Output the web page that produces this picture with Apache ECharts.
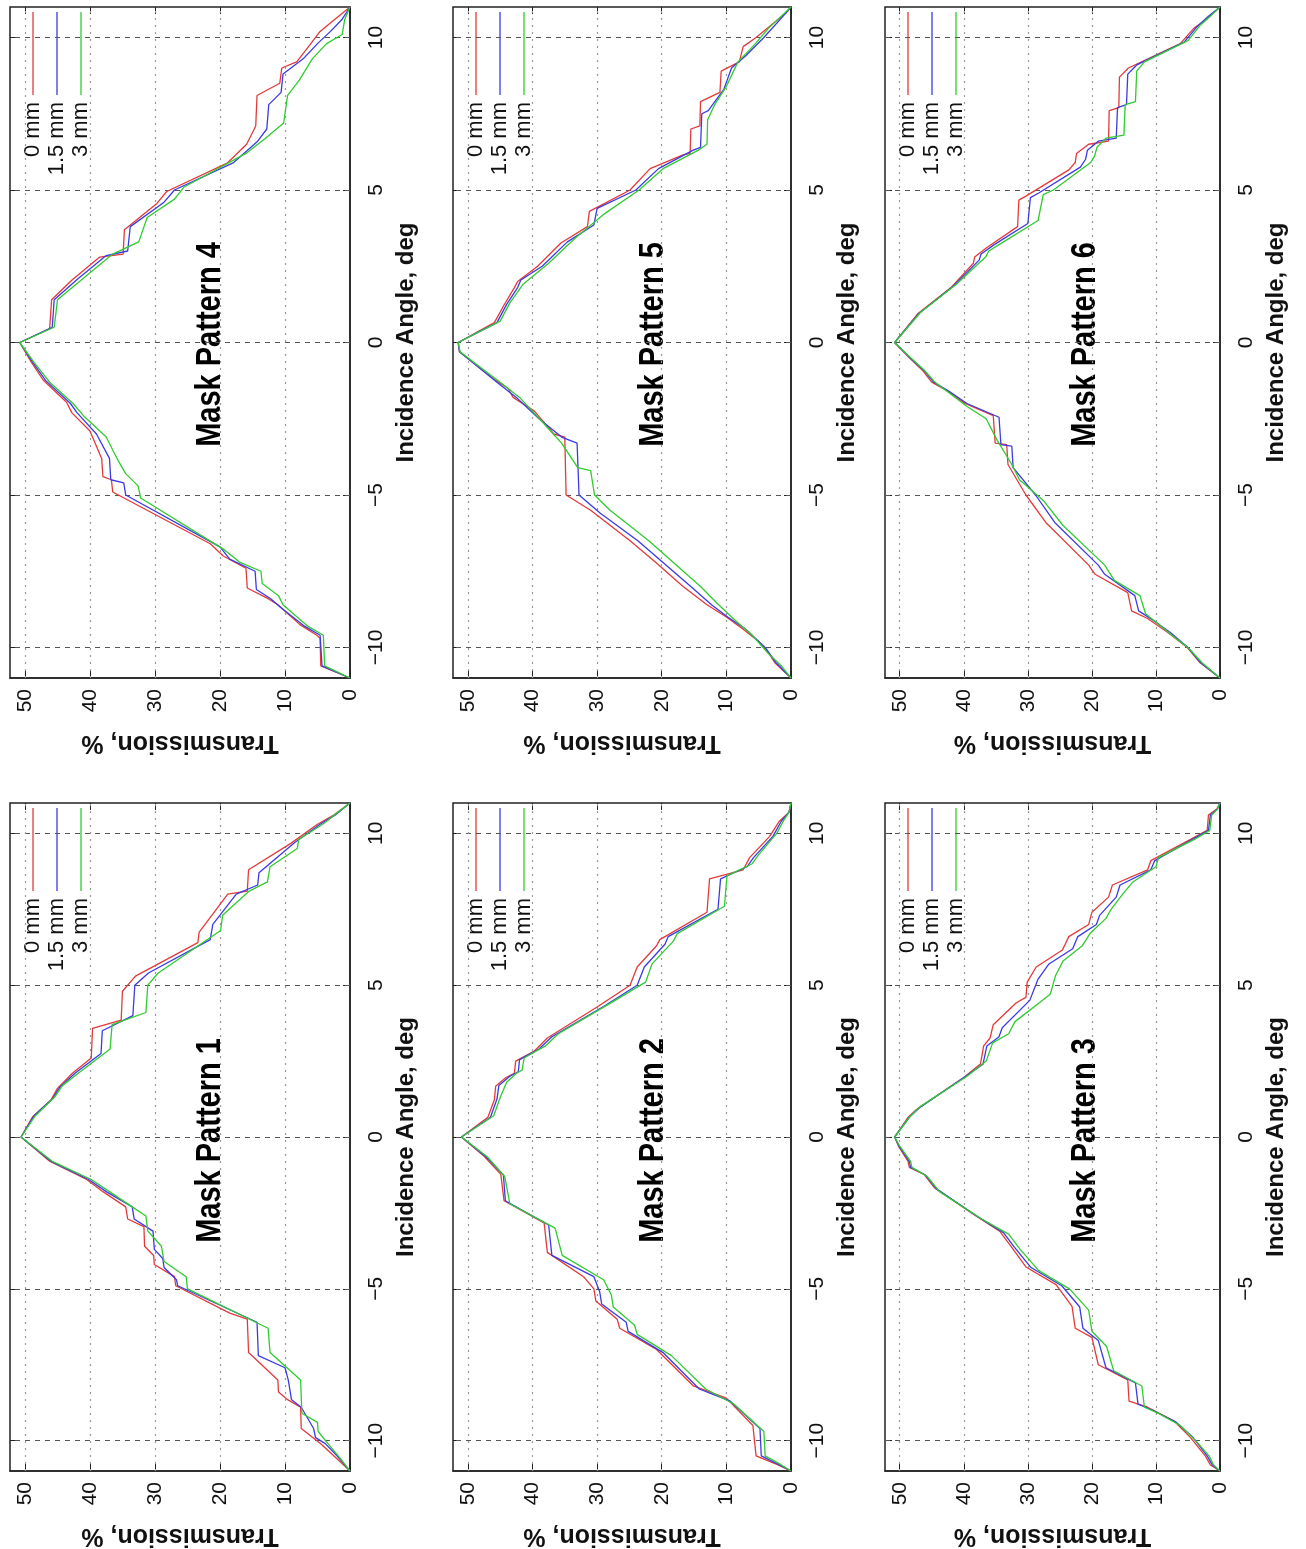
<!DOCTYPE html>
<html>
<head>
<meta charset="utf-8">
<script src="https://cdn.jsdelivr.net/npm/echarts@6/dist/echarts.min.js"></script>
<style>
  body { margin: 0; background: #fff; }
  #chart { width: 1306px; height: 1549px; }
</style>
</head>
<body>
<div id="chart"></div>
<script>
// tick values and legend
const angleTicks = [-10, -5, 0, 5, 10]
const transTicks = [0, 10, 20, 30, 40, 50]
const legendNames = ['0 mm', '1.5 mm', '3 mm']
const lineColors = ['#e23a3a', '#3a3ae6', '#2fcc2f']

// [incidence angle, transmission %]
const mp1_0mm = [[0, 50.6], [0.67, 48.8], [1.22, 46], [1.6, 45], [2.1, 42.7], [2.6, 39.8], [3.58, 39.6], [3.85, 35.2], [4.8, 35], [5.3, 33], [6.4, 23.4], [6.75, 23.2], [7.0, 22.3], [8.0, 18.8], [8.1, 15.8], [8.8, 15.6], [9.67, 9.1], [10.3, 5.0], [10.6, 2.5], [11, 0],
  [-0.8, 46.2], [-1.4, 40.5], [-1.8, 38], [-2.3, 34.5], [-2.7, 34.2], [-2.95, 31.7], [-3.6, 31.6], [-3.9, 30.2], [-4.2, 30.1], [-4.6, 27], [-4.9, 26.8], [-5.8, 18.5], [-6.0, 15.8], [-7.1, 15.6], [-8.0, 11.1], [-8.4, 11.0], [-8.65, 9.6], [-8.9, 7.6], [-9.6, 7.5], [-10.1, 4.5], [-10.5, 2.5], [-11, 0]]
const mp1_15mm = [[0, 50.6], [0.7, 48.6], [1.25, 45.8], [1.65, 44.6], [2.1, 42.3], [2.75, 38.3], [3.5, 38.1], [4.0, 33.4], [5.0, 33.1], [5.4, 31], [6.5, 21.5], [7.0, 21.1], [8.0, 17.5], [8.3, 14.2], [8.7, 14], [9.7, 8.5], [10.3, 4.6], [10.6, 2.3], [11, 0],
  [-0.8, 46], [-1.4, 40.2], [-1.8, 37.5], [-2.3, 33.5], [-2.7, 33.2], [-3.1, 30.3], [-3.7, 30.1], [-4.0, 28.8], [-4.3, 28.6], [-4.7, 26.7], [-4.9, 26.5], [-6.1, 14.3], [-7.2, 14.1], [-7.6, 10], [-8.0, 9.5], [-8.65, 9.0], [-8.9, 7.5], [-9.6, 5.6], [-9.9, 5.3], [-10.1, 3.8], [-10.5, 2], [-11, 0]]
const mp1_3mm = [[0, 50.6], [0.7, 48.4], [1.3, 45.5], [1.7, 44.2], [2.1, 41.8], [2.9, 36.9], [3.7, 36.6], [4.1, 31.4], [5.0, 31.1], [5.4, 29.5], [6.8, 19.9], [7.3, 19.6], [8.1, 15.5], [8.4, 12.7], [8.9, 12.3], [9.5, 8.1], [9.8, 7.9], [10.3, 4.2], [10.7, 1.8], [11, 0],
  [-0.8, 45.8], [-1.4, 39.8], [-1.8, 37], [-2.3, 33.5], [-2.6, 31.4], [-3.1, 31.1], [-3.6, 29], [-4.1, 28.6], [-4.6, 25.2], [-5.0, 25.0], [-6.3, 12.6], [-7.1, 12.3], [-8.0, 7.6], [-9.1, 7.4], [-9.4, 5.0], [-9.7, 4.9], [-10.1, 3.4], [-10.5, 1.8], [-11, 0]]

const mp2_0mm = [[0, 51], [0.65, 46.9], [1.23, 45.9], [1.67, 45.7], [1.96, 44.1], [2.1, 42.8], [2.5, 42.6], [2.83, 39.7], [3.26, 37.7], [4.28, 30], [5, 24.9], [5.6, 23.8], [6.3, 20.8], [6.5, 20.3], [7.4, 13.0], [8.5, 12.6], [8.8, 7.4], [9.2, 6.4], [9.9, 3.3], [10.4, 1.8], [10.7, 0.3], [11, 0],
  [-0.65, 47.4], [-1.23, 44.9], [-2.1, 44.4], [-2.83, 38.2], [-3.8, 37.7], [-4.6, 32.1], [-5.0, 30.5], [-5.4, 30.2], [-6.0, 26.9], [-6.3, 26.5], [-7.0, 20.8], [-8.2, 15.1], [-8.6, 10], [-9.5, 5.9], [-10.5, 5.4], [-10.8, 2], [-11, 0]]
const mp2_15mm = [[0, 51], [0.65, 46.5], [1.25, 45.5], [1.7, 45.2], [2.0, 43.5], [2.15, 42.2], [2.55, 42], [2.9, 39], [3.3, 37], [4.3, 29], [5.0, 23.8], [5.6, 22.7], [6.35, 19.5], [6.6, 19], [7.5, 11.3], [8.5, 10.9], [8.9, 6.8], [9.2, 5.8], [9.9, 2.8], [10.4, 1.5], [10.7, 0.3], [11, 0],
  [-0.65, 47.2], [-1.25, 44.5], [-2.1, 44.2], [-2.9, 37.5], [-3.9, 37], [-4.6, 30.5], [-5.1, 29.6], [-5.5, 29.3], [-6.1, 25.5], [-6.4, 25.2], [-7.1, 19.8], [-8.3, 14.2], [-8.7, 9.4], [-9.6, 4.8], [-10.5, 4.6], [-10.8, 1.8], [-11, 0]]
const mp2_3mm = [[0, 51], [0.7, 46], [1.3, 45], [1.8, 44], [2.1, 42.5], [2.2, 41.6], [2.6, 41.3], [3.0, 38], [3.4, 36], [4.4, 28], [5.1, 22.5], [5.7, 21.5], [6.45, 18.2], [6.7, 17.6], [7.6, 10.3], [8.6, 9.9], [9.0, 6], [9.3, 5], [10.0, 2.2], [10.4, 1.2], [10.7, 0.3], [11, 0],
  [-0.65, 47], [-1.3, 44.3], [-2.2, 43.5], [-3.0, 36.5], [-3.9, 35.4], [-4.7, 29], [-5.2, 27.8], [-5.6, 27.5], [-6.2, 24.2], [-6.5, 23.8], [-7.2, 18.5], [-8.3, 13.2], [-8.8, 8.8], [-9.7, 4.2], [-10.5, 4.0], [-10.8, 1.5], [-11, 0]]

const mp3_0mm = [[0, 50.8], [0.65, 48.7], [0.94, 47.2], [1.96, 40], [2.4, 37.4], [3.0, 36.9], [3.26, 35.9], [3.7, 35.4], [4.42, 31.8], [4.6, 30.3], [5.1, 30.1], [5.6, 28.7], [6.16, 24.6], [6.6, 23.6], [7.0, 20.5], [7.4, 20], [7.9, 17.4], [8.3, 16.8], [8.8, 11.3], [9.1, 10.8], [9.8, 4.6], [10.1, 2], [10.6, 1.8], [10.8, 0.5], [11, 0],
  [-0.3, 50.2], [-0.8, 48.7], [-1.0, 48.5], [-1.23, 46.2], [-1.67, 44.6], [-2.54, 38.5], [-3.1, 34.4], [-3.55, 32.8], [-4.28, 30.3], [-4.86, 25.6], [-5.58, 23.1], [-6.3, 22.6], [-6.6, 20], [-7.5, 19], [-8.0, 14.4], [-8.7, 14.2], [-8.9, 11.3], [-9.35, 7.2], [-9.9, 4.6], [-10.5, 2.3], [-10.8, 1.5], [-11, 0]]
const mp3_15mm = [[0, 50.8], [0.65, 48.5], [0.95, 47], [2.0, 39.7], [2.4, 37], [3.0, 36.4], [3.3, 34.5], [3.6, 34], [4.5, 29.7], [5.2, 28.4], [5.7, 26.7], [6.2, 23.0], [6.6, 22.2], [7.0, 19.3], [7.3, 18.8], [7.9, 16.2], [8.3, 15.6], [8.8, 10.8], [9.1, 10.2], [9.8, 4.3], [10.1, 1.8], [10.6, 1.5], [10.8, 0.4], [11, 0],
  [-0.3, 50.1], [-0.8, 48.5], [-1.0, 48.3], [-1.25, 46], [-1.7, 44.3], [-2.6, 38], [-3.15, 33.8], [-3.6, 32.2], [-4.3, 29.5], [-4.9, 24.7], [-5.6, 21.9], [-6.3, 21.4], [-6.7, 19], [-7.6, 17.8], [-8.1, 13.2], [-8.8, 12.8], [-9.0, 10.5], [-9.4, 6.8], [-9.9, 4.2], [-10.5, 2], [-10.8, 1.2], [-11, 0]]
const mp3_3mm = [[0, 50.8], [0.7, 48.3], [1.0, 46.8], [2.0, 39.5], [2.5, 36.5], [3.1, 35.5], [3.4, 33], [3.8, 32], [4.7, 26.5], [5.3, 25.7], [5.8, 24.5], [6.3, 21.5], [6.7, 20.3], [7.2, 17.8], [7.5, 17], [8.0, 15.2], [8.4, 13.6], [8.9, 10], [9.2, 9.6], [9.8, 4.0], [10.1, 1.6], [10.6, 1.3], [10.8, 0.4], [11, 0],
  [-0.3, 50], [-0.8, 48.3], [-1.0, 48.1], [-1.3, 45.7], [-1.8, 43.8], [-2.7, 37.2], [-3.2, 33], [-3.7, 31.2], [-4.4, 28.3], [-5.0, 23.5], [-5.7, 20.5], [-6.4, 20.0], [-6.9, 17.7], [-7.7, 16.6], [-8.2, 12.2], [-8.9, 11.8], [-9.1, 9.6], [-9.5, 6.2], [-10, 3.8], [-10.5, 1.7], [-10.8, 1.0], [-11, 0]]

const mp4_0mm = [[0, 50.8], [0.45, 46.2], [1.4, 45.9], [2.04, 42.8], [2.8, 38.5], [2.9, 34.9], [3.7, 34.7], [4.56, 29.7], [4.95, 28.2], [5.88, 18.9], [6.5, 15.9], [7.1, 14.5], [8.1, 14.3], [8.5, 10.8], [9.0, 10.5], [9.2, 8.2], [9.75, 6.2], [10.2, 4.6], [10.55, 2.6], [11, 0],
  [-0.65, 49], [-1.23, 47.2], [-1.96, 43.6], [-2.3, 42.8], [-2.9, 40], [-3.8, 38.2], [-4.4, 38], [-4.5, 36.7], [-4.9, 36.5], [-6.6, 21.5], [-7.0, 19.5], [-7.4, 16], [-8.05, 15.8], [-8.4, 12.6], [-8.6, 11.1], [-9.25, 7.7], [-9.6, 5.1], [-9.7, 4.6], [-10.6, 4.5], [-11, 0]]
const mp4_15mm = [[0, 50.8], [0.5, 45.8], [1.4, 45.5], [2.1, 41.8], [2.85, 37.5], [3.0, 34.2], [3.8, 33.8], [4.6, 28.6], [5.0, 27], [5.9, 17.9], [6.6, 14.2], [7.0, 12.8], [7.8, 12.5], [8.2, 10.6], [8.8, 10.3], [9.3, 7.2], [9.8, 5.0], [10.2, 3.0], [10.6, 1.2], [11, 0],
  [-0.65, 48.8], [-1.25, 46.8], [-2.0, 43], [-2.3, 42], [-3.0, 39], [-3.8, 37], [-4.5, 36.8], [-4.6, 34.8], [-5.0, 34.5], [-6.7, 20], [-7.1, 18.5], [-7.5, 14.6], [-8.1, 14.4], [-8.4, 12.2], [-8.7, 10.6], [-9.3, 7], [-9.6, 4.6], [-10.6, 4.3], [-11, 0]]
const mp4_3mm = [[0, 50.8], [0.5, 45.5], [1.4, 45], [2.2, 40.5], [2.9, 36.5], [3.3, 32.5], [4.1, 31.2], [4.7, 27], [5.1, 25.5], [6.2, 16.0], [6.7, 13.0], [7.2, 10.2], [8.1, 9.6], [8.6, 7.8], [9.3, 5.8], [9.8, 3.6], [10.1, 1.2], [10.6, 0.8], [11, 0],
  [-0.65, 48.6], [-1.3, 46.2], [-2.0, 42.6], [-2.4, 41], [-3.1, 37.5], [-3.9, 35.6], [-4.3, 34.5], [-4.7, 32.6], [-5.1, 32.2], [-6.8, 19.3], [-7.2, 17], [-7.5, 13.7], [-7.9, 13.5], [-8.3, 11], [-8.6, 10.3], [-9.3, 6.5], [-9.6, 4.1], [-10.6, 3.9], [-11, 0]]

const mp5_0mm = [[0, 51.5], [0.65, 45.9], [1.23, 44.4], [1.8, 42.8], [2.0, 42.3], [2.5, 39.2], [3.26, 35.6], [3.8, 31.5], [4.3, 31.2], [5, 24.9], [5.7, 21.8], [6.15, 16.7], [6.2, 15.6], [7.0, 15.5], [7.1, 14.1], [7.9, 14.0], [8.2, 11], [8.9, 10.8], [9.2, 8], [9.7, 7.4], [10, 5.4], [10.8, 0.8], [11, 0],
  [-0.3, 51.3], [-0.7, 49], [-1.2, 46], [-1.5, 43.8], [-1.8, 43], [-2.25, 39.7], [-3.0, 36.7], [-3.1, 35], [-5.0, 34.8], [-5.5, 31], [-6.5, 24.9], [-7.2, 21], [-8.0, 16.7], [-8.6, 13], [-9.0, 10], [-9.4, 7.4], [-9.8, 5], [-10.2, 3.4], [-10.5, 2.5], [-11, 0]]
const mp5_15mm = [[0, 51.5], [0.65, 45.5], [1.25, 44], [1.8, 42.3], [2.05, 41.8], [2.5, 38.5], [3.3, 34.6], [3.85, 30.5], [4.4, 30], [5, 24], [5.7, 20.5], [6.3, 15.2], [6.4, 14], [7.5, 13.8], [7.6, 12.8], [8.3, 10.4], [9.0, 9.2], [9.4, 7], [10, 4.2], [10.8, 0.8], [11, 0],
  [-0.3, 51.3], [-0.7, 49], [-1.3, 45.5], [-1.8, 42.5], [-2.5, 39], [-3.1, 35.5], [-3.3, 33.1], [-5.0, 32.8], [-5.6, 29.5], [-6.5, 23.7], [-8.0, 15.5], [-8.6, 12.3], [-9.0, 9.8], [-9.4, 7], [-10, 4], [-10.5, 2.3], [-11, 0]]
const mp5_3mm = [[0, 51.5], [0.7, 45], [1.3, 43.5], [1.9, 41.5], [2.6, 37.5], [3.4, 33.5], [4.2, 29], [5, 23.5], [5.7, 19.8], [6.3, 14.4], [6.5, 13], [7.3, 12.9], [7.8, 11.8], [8.4, 10], [9.2, 8.2], [9.8, 5.5], [10.3, 3.5], [10.8, 1], [11, 0],
  [-0.3, 51.2], [-0.7, 48.8], [-1.3, 45], [-1.8, 42], [-2.6, 38.5], [-3.3, 35.5], [-4.1, 33], [-4.2, 31], [-5.0, 30.4], [-5.5, 28], [-6.5, 22], [-8.0, 14], [-8.6, 11.2], [-9.1, 8.7], [-9.6, 6], [-10.2, 3.5], [-10.6, 1.5], [-11, 0]]

const mp6_0mm = [[0, 50.8], [0.94, 47.2], [1.8, 42], [2.6, 38.5], [2.8, 38.3], [3.1, 36.5], [3.8, 31.6], [4.67, 31.4], [4.8, 30.3], [5.66, 23.6], [5.9, 22.6], [6.2, 22.4], [6.5, 20.5], [6.6, 17.4], [7.6, 17.3], [7.7, 15.8], [8.7, 15.7], [9.0, 14.3], [9.8, 6.2], [10.3, 4.1], [10.6, 2.1], [11, 0],
  [-0.5, 48.5], [-0.9, 46.5], [-1.3, 45], [-1.6, 42.5], [-2.0, 39.8], [-2.4, 35.4], [-3.3, 35.1], [-3.35, 33.3], [-4.0, 33.1], [-5.0, 30.3], [-5.9, 27.2], [-7.3, 20.5], [-7.6, 19.5], [-8.2, 14.4], [-8.8, 13.8], [-9.05, 11.3], [-9.5, 8.2], [-10, 5.1], [-10.5, 3.1], [-11, 0]]
const mp6_15mm = [[0, 50.8], [0.95, 47], [1.85, 41.6], [2.7, 37.6], [2.9, 37.3], [3.2, 35.3], [3.9, 30], [4.75, 29.6], [4.9, 28.3], [5.75, 21.8], [6.0, 21], [6.3, 20.7], [6.6, 19.0], [6.7, 16.2], [7.7, 16.0], [7.8, 14.6], [8.8, 14.4], [9.1, 13], [9.85, 5.6], [10.35, 3.6], [10.7, 1.8], [11, 0],
  [-0.5, 48.4], [-0.9, 46.3], [-1.3, 44.7], [-1.6, 42.3], [-2.0, 39.5], [-2.45, 34.5], [-3.35, 34.2], [-3.4, 32.5], [-4.1, 32.3], [-5.0, 28.8], [-5.9, 25.8], [-7.3, 19], [-7.6, 18], [-8.3, 13.3], [-8.8, 12.7], [-9.1, 10.5], [-9.5, 7.8], [-10, 5], [-10.5, 3], [-11, 0]]
const mp6_3mm = [[0, 50.8], [1.0, 46.7], [1.9, 41.2], [2.8, 36.6], [3.0, 36.1], [3.3, 33.8], [4.0, 28.4], [4.85, 27.6], [5.0, 26], [5.9, 20.2], [6.1, 19.6], [6.4, 19.2], [6.7, 17.8], [6.8, 15], [7.8, 14.8], [7.9, 13.2], [8.9, 13.0], [9.2, 11.8], [9.9, 5], [10.4, 3.1], [10.7, 1.5], [11, 0],
  [-0.5, 48.3], [-0.9, 46.2], [-1.3, 44.5], [-1.7, 42], [-2.1, 39.5], [-2.5, 36.5], [-3.2, 34.8], [-4.0, 32.5], [-4.5, 31.3], [-5.2, 27.5], [-6.0, 24.5], [-7.3, 18], [-7.8, 16.5], [-8.3, 12.5], [-8.9, 11.6], [-9.2, 9.8], [-9.6, 7.5], [-10, 5], [-10.5, 2.8], [-11, 0]]

// panel order on the page: top row 4,5,6 ; bottom row 1,2,3
const panels = [
  { title: 'Mask Pattern 4', lines: [mp4_0mm, mp4_15mm, mp4_3mm] },
  { title: 'Mask Pattern 5', lines: [mp5_0mm, mp5_15mm, mp5_3mm] },
  { title: 'Mask Pattern 6', lines: [mp6_0mm, mp6_15mm, mp6_3mm] },
  { title: 'Mask Pattern 1', lines: [mp1_0mm, mp1_15mm, mp1_3mm] },
  { title: 'Mask Pattern 2', lines: [mp2_0mm, mp2_15mm, mp2_3mm] },
  { title: 'Mask Pattern 3', lines: [mp3_0mm, mp3_15mm, mp3_3mm] }
]

const colLeft = [10, 453, 885]
const colWidth = [340, 338, 335]
const rowTop = [7, 803]
const rowHeight = 671
const FONT = '"Liberation Sans", Arial, sans-serif'

const grids = []
const xAxes = []
const yAxes = []
const series = []
const graphics = []

panels.forEach((p, i) => {
  const col = i % 3
  const row = Math.floor(i / 3)
  const left = colLeft[col]
  const top = rowTop[row]
  const w = colWidth[col]
  grids.push({
    left: left, top: top, width: w, height: rowHeight,
    show: true, borderColor: '#222', borderWidth: 1.5, backgroundColor: 'transparent'
  })

  // transmission axis runs along the bottom, 0 at the right
  xAxes.push({
    type: 'value', gridIndex: i, position: 'bottom', inverse: true,
    min: 0, max: 52.3,
    axisLine: { show: true, onZero: false, lineStyle: { color: '#222', width: 1.5 } },
    axisTick: { show: true, inside: true, length: 7, customValues: transTicks, lineStyle: { color: '#222' } },
    axisLabel: { customValues: transTicks, rotate: 90, fontSize: 21, color: '#111', fontFamily: FONT, margin: 11 },
    splitLine: { show: false },
    name: 'Transmission, %', nameLocation: 'middle', nameRotate: 180, nameGap: 52,
    nameTextStyle: { fontSize: 25, fontWeight: 'bold', color: '#111', fontFamily: FONT }
  })
  xAxes.push({
    type: 'value', gridIndex: i, position: 'top', inverse: true,
    min: 0, max: 52.3,
    axisLine: { show: false, onZero: false },
    axisTick: { show: true, inside: true, length: 7, customValues: transTicks, lineStyle: { color: '#222' } },
    axisLabel: { show: false },
    splitLine: { show: false }
  })

  // incidence angle runs up the right side
  yAxes.push({
    type: 'value', gridIndex: i, position: 'right',
    min: -11, max: 11,
    axisLine: { show: true, onZero: false, lineStyle: { color: '#222', width: 1.5 } },
    axisTick: { show: true, inside: true, length: 7, customValues: angleTicks, lineStyle: { color: '#222' } },
    axisLabel: {
      customValues: angleTicks, rotate: 90, fontSize: 21, color: '#111', fontFamily: FONT, margin: 16,
      formatter: v => (v < 0 ? '\u2212' + Math.abs(v) : String(v))
    },
    splitLine: { show: false },
    name: 'Incidence Angle, deg', nameLocation: 'middle', nameRotate: 90, nameGap: 44,
    nameTextStyle: { fontSize: 24, fontWeight: 'bold', color: '#111', fontFamily: FONT }
  })
  yAxes.push({
    type: 'value', gridIndex: i, position: 'left',
    min: -11, max: 11,
    axisLine: { show: false, onZero: false },
    axisTick: { show: true, inside: true, length: 7, customValues: angleTicks, lineStyle: { color: '#222' } },
    axisLabel: { show: false },
    splitLine: { show: false }
  })

  p.lines.forEach((pts, k) => {
    const sorted = pts.slice().sort((a, b) => a[0] - b[0])
    const s = {
      type: 'line',
      name: legendNames[k],
      xAxisIndex: 2 * i,
      yAxisIndex: 2 * i,
      data: sorted.map(d => [d[1], d[0]]),
      showSymbol: false,
      symbol: 'none',
      lineStyle: { color: lineColors[k], width: 1.3 },
      z: 3 + k,
      animation: false,
      silent: true
    }
    if (k === 0) {
      // gnuplot style grid
      s.markLine = {
        z: 1, silent: true, animation: false,
        symbol: ['none', 'none'],
        label: { show: false },
        data: angleTicks.map(v => ({ yAxis: v, lineStyle: { color: '#555', type: [5, 5], width: 1 } }))
          .concat(transTicks.slice(1).map(v => ({ xAxis: v, lineStyle: { color: '#999', type: [2, 5], width: 1.2 } })))
      }
    }
    series.push(s)
  })

  // legend drawn rotated like the rest of the figure
  const legX = [23, 47, 71]
  legendNames.forEach((name, k) => {
    graphics.push({
      type: 'line', silent: true,
      shape: { x1: left + legX[k], y1: top + 5, x2: left + legX[k], y2: top + 88 },
      style: { stroke: lineColors[k], lineWidth: 1.3 }
    })
    graphics.push({
      type: 'text', silent: true,
      x: left + legX[k], y: top + 95, rotation: Math.PI / 2,
      style: { text: name, fill: '#111', font: '22px ' + FONT, textAlign: 'right', textVerticalAlign: 'middle' }
    })
  })

  // panel title
  graphics.push({
    type: 'text', silent: true,
    x: left + 200, y: top + rowHeight / 2 + 2, rotation: Math.PI / 2,
    scaleY: 1.2,
    style: { text: p.title, fill: '#000', font: 'bold 29px ' + FONT, textAlign: 'center', textVerticalAlign: 'middle' }
  })
})

const chart = echarts.init(document.getElementById('chart'))
chart.setOption({
  backgroundColor: '#fff',
  animation: false,
  grid: grids,
  xAxis: xAxes,
  yAxis: yAxes,
  series: series,
  graphic: graphics
})
</script>
</body>
</html>
